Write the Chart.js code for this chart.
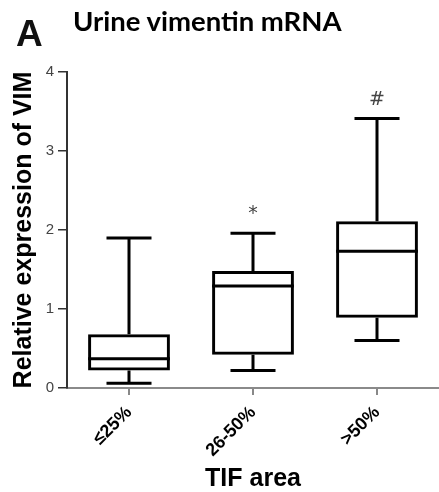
<!DOCTYPE html>
<html>
<head>
<meta charset="utf-8">
<script src="https://cdn.jsdelivr.net/npm/chart.js@4/dist/chart.umd.min.js"></script>
<style>
  html, body { margin: 0; padding: 0; background: #fff; }
  #wrap { position: relative; width: 439px; height: 492px; overflow: hidden; }
  #panel { position: absolute; left: 16px; top: 15px; font: bold 37px "Liberation Sans", Arial, sans-serif; color: #111; line-height: 1; }
  #heading { position: absolute; left: 73px; top: 7px; font: bold 27.5px Lato, "Open Sans", sans-serif; color: #000; line-height: 1; white-space: nowrap; }
  canvas { position: absolute; left: 0; top: 0; }
</style>
</head>
<body>
<div id="wrap">
  <canvas id="chart" width="439" height="492"></canvas>
  <div id="panel">A</div>
  <div id="heading">Urine vimentin mRNA</div>
</div>
<script>
// TIF area groups and box-plot summary of relative VIM expression
const categories = ['≤25%', '26-50%', '>50%'];
const whiskerLow = [0.06, 0.22, 0.60];
const quartile1  = [0.22, 0.42, 0.89];
const medians    = [0.37, 1.29, 1.73];
const quartile3  = [0.68, 1.48, 2.11];
const whiskerHigh = [1.90, 1.96, 3.41];
const significance = ['', '*', '#'];
const yTicks = [0, 1, 2, 3, 4];

const LABEL_FONT = '"Liberation Sans", Arial, Helvetica, sans-serif';

// Whiskers, caps, medians and significance marks, placed through the chart scales
const boxExtras = {
  id: 'boxExtras',
  afterDatasetsDraw(chart) {
    const ctx = chart.ctx;
    const y = chart.scales.y;
    const meta = chart.getDatasetMeta(0);
    ctx.save();
    ctx.strokeStyle = '#000';
    ctx.lineWidth = 3;
    ctx.lineCap = 'butt';
    meta.data.forEach((bar, i) => {
      const cx = bar.x;
      const half = bar.width / 2;
      const capHalf = half * 0.55;
      const pLow = y.getPixelForValue(whiskerLow[i]);
      const pQ1 = y.getPixelForValue(quartile1[i]);
      const pMed = y.getPixelForValue(medians[i]);
      const pQ3 = y.getPixelForValue(quartile3[i]);
      const pHigh = y.getPixelForValue(whiskerHigh[i]);
      ctx.beginPath();
      // median
      ctx.moveTo(cx - half, pMed); ctx.lineTo(cx + half, pMed);
      // lower whisker and cap
      ctx.moveTo(cx, pQ1); ctx.lineTo(cx, pLow);
      ctx.moveTo(cx - capHalf, pLow); ctx.lineTo(cx + capHalf, pLow);
      // upper whisker and cap
      ctx.moveTo(cx, pQ3); ctx.lineTo(cx, pHigh);
      ctx.moveTo(cx - capHalf, pHigh); ctx.lineTo(cx + capHalf, pHigh);
      ctx.stroke();
      if (significance[i]) {
        ctx.fillStyle = '#444';
        ctx.font = '19px "DejaVu Sans", sans-serif';
        ctx.textAlign = 'center';
        ctx.textBaseline = 'middle';
        ctx.fillText(significance[i], cx, pHigh - 19);
      }
    });
    ctx.restore();
  }
};

new Chart(document.getElementById('chart'), {
  type: 'bar',
  data: {
    labels: categories,
    datasets: [{
      data: quartile1.map((q, i) => [q, quartile3[i]]),
      backgroundColor: 'rgba(255,255,255,0)',
      borderColor: '#000',
      borderWidth: 3,
      borderSkipped: false,
      barPercentage: 0.66,
      categoryPercentage: 1
    }]
  },
  options: {
    responsive: false,
    animation: false,
    devicePixelRatio: 1,
    layout: { padding: { top: 72, right: 0, left: 0, bottom: 0 } },
    plugins: { legend: { display: false }, tooltip: { enabled: false } },
    scales: {
      x: {
        afterFit(scale) { scale.height = 104; },
        grid: { drawOnChartArea: false, drawTicks: true, tickLength: 7, offset: false, color: '#888', lineWidth: 2 },
        border: { color: '#8a8a8a', width: 2 },
        ticks: {
          minRotation: 45, maxRotation: 45, padding: 7,
          color: '#000',
          font: { family: LABEL_FONT, size: 18, weight: 'bold' }
        },
        title: {
          display: true, text: 'TIF area', color: '#000',
          font: { family: LABEL_FONT, size: 25, weight: 'bold', lineHeight: 1 },
          padding: { top: 0, bottom: 0 }
        }
      },
      y: {
        min: 0, max: 4,
        afterFit(scale) { scale.width = 67; },
        afterBuildTicks(scale) { scale.ticks = yTicks.map(v => ({ value: v })); },
        grid: { drawOnChartArea: false, drawTicks: true, tickLength: 9, color: '#333', lineWidth: 1.5 },
        border: { color: '#333', width: 2 },
        ticks: {
          padding: 4, color: '#444',
          font: { family: LABEL_FONT, size: 15 }
        },
        title: {
          display: true, text: 'Relative expression of VIM', color: '#000',
          font: { family: LABEL_FONT, size: 25, weight: 'bold', lineHeight: 1 },
          padding: { top: 12, bottom: 0 }
        }
      }
    }
  },
  plugins: [boxExtras]
});
</script>
</body>
</html>
